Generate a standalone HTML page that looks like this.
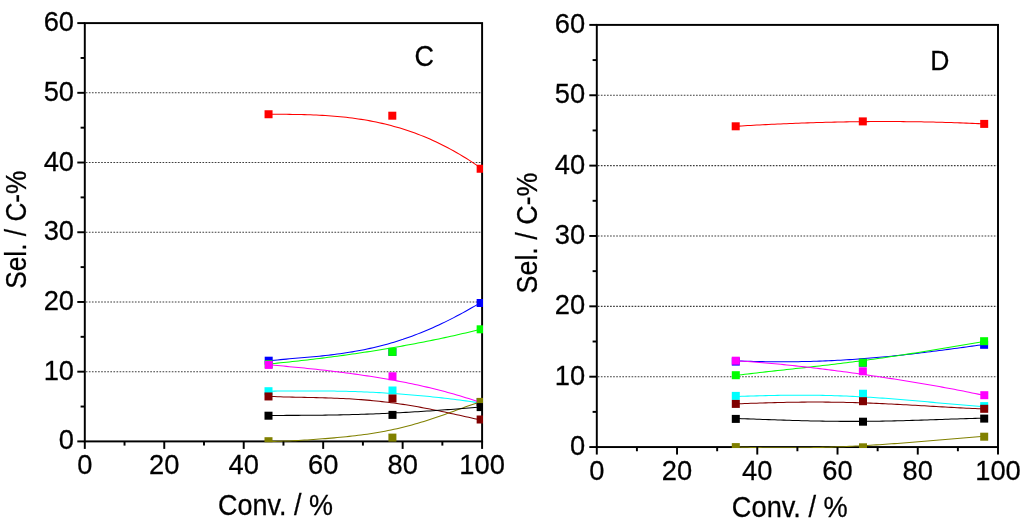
<!DOCTYPE html>
<html><head><meta charset="utf-8"><title>Sel. vs Conv.</title>
<style>
html,body{margin:0;padding:0;background:#fff;}
body{width:1024px;height:523px;overflow:hidden;}
svg{display:block;font-family:'Liberation Sans', sans-serif;fill:#000;}
text{stroke:#000;stroke-width:0.25px;}
</style></head><body>
<svg width="1024" height="523" viewBox="0 0 1024 523">
<rect width="1024" height="523" fill="#fff"/>
<line x1="85.80" y1="371.68" x2="481.10" y2="371.68" stroke="#3c3c3c" stroke-width="1.1" stroke-dasharray="1.65 1.42"/>
<line x1="85.80" y1="301.97" x2="481.10" y2="301.97" stroke="#3c3c3c" stroke-width="1.1" stroke-dasharray="1.65 1.42"/>
<line x1="85.80" y1="232.25" x2="481.10" y2="232.25" stroke="#3c3c3c" stroke-width="1.1" stroke-dasharray="1.65 1.42"/>
<line x1="85.80" y1="162.53" x2="481.10" y2="162.53" stroke="#3c3c3c" stroke-width="1.1" stroke-dasharray="1.65 1.42"/>
<line x1="85.80" y1="92.82" x2="481.10" y2="92.82" stroke="#3c3c3c" stroke-width="1.1" stroke-dasharray="1.65 1.42"/>
<clipPath id="clipL"><rect x="83.90" y="22.20" width="399.10" height="420.10"/></clipPath>
<rect x="84.80" y="23.10" width="397.30" height="418.30" fill="none" stroke="#000" stroke-width="1.95"/>
<g clip-path="url(#clipL)">
<path d="M268.5 360.81 L271.5 360.50 L274.5 360.20 L277.5 359.91 L280.5 359.64 L283.4 359.37 L286.4 359.11 L289.4 358.85 L292.4 358.60 L295.4 358.34 L298.4 358.09 L301.4 357.84 L304.4 357.58 L307.3 357.31 L310.3 357.04 L313.3 356.77 L316.3 356.48 L319.3 356.18 L322.3 355.87 L325.3 355.55 L328.3 355.21 L331.2 354.86 L334.2 354.49 L337.2 354.10 L340.2 353.70 L343.2 353.27 L346.2 352.82 L349.2 352.35 L352.2 351.86 L355.2 351.35 L358.1 350.80 L361.1 350.24 L364.1 349.65 L367.1 349.03 L370.1 348.38 L373.1 347.70 L376.1 347.00 L379.1 346.27 L382.0 345.50 L385.0 344.71 L388.0 343.89 L391.0 343.03 L394.0 342.14 L397.0 341.22 L400.0 340.27 L403.0 339.29 L405.9 338.27 L408.9 337.23 L411.9 336.14 L414.9 335.03 L417.9 333.88 L420.9 332.70 L423.9 331.49 L426.9 330.25 L429.9 328.97 L432.8 327.66 L435.8 326.31 L438.8 324.94 L441.8 323.53 L444.8 322.10 L447.8 320.63 L450.8 319.13 L453.8 317.60 L456.7 316.04 L459.7 314.46 L462.7 312.84 L465.7 311.20 L468.7 309.52 L471.7 307.83 L474.7 306.10 L477.7 304.36 L480.6 302.58" fill="none" stroke="#0000ff" stroke-width="1.05" stroke-linejoin="round"/>
<rect x="264.70" y="356.70" width="8" height="8" fill="#0000ff"/>
<rect x="388.40" y="347.90" width="8" height="8" fill="#0000ff"/>
<rect x="476.65" y="299.00" width="8" height="8" fill="#0000ff"/>
<path d="M268.5 364.00 L271.5 363.71 L274.5 363.42 L277.5 363.13 L280.5 362.83 L283.4 362.52 L286.4 362.21 L289.4 361.90 L292.4 361.58 L295.4 361.25 L298.4 360.92 L301.4 360.59 L304.4 360.25 L307.3 359.91 L310.3 359.56 L313.3 359.20 L316.3 358.84 L319.3 358.48 L322.3 358.11 L325.3 357.73 L328.3 357.35 L331.2 356.96 L334.2 356.57 L337.2 356.17 L340.2 355.77 L343.2 355.36 L346.2 354.95 L349.2 354.52 L352.2 354.10 L355.2 353.67 L358.1 353.23 L361.1 352.78 L364.1 352.33 L367.1 351.87 L370.1 351.41 L373.1 350.94 L376.1 350.47 L379.1 349.98 L382.0 349.49 L385.0 349.00 L388.0 348.50 L391.0 347.99 L394.0 347.47 L397.0 346.95 L400.0 346.42 L403.0 345.89 L405.9 345.34 L408.9 344.79 L411.9 344.24 L414.9 343.67 L417.9 343.10 L420.9 342.52 L423.9 341.93 L426.9 341.34 L429.9 340.74 L432.8 340.13 L435.8 339.51 L438.8 338.89 L441.8 338.26 L444.8 337.62 L447.8 336.97 L450.8 336.31 L453.8 335.65 L456.7 334.97 L459.7 334.29 L462.7 333.60 L465.7 332.91 L468.7 332.20 L471.7 331.48 L474.7 330.76 L477.7 330.03 L480.6 329.29" fill="none" stroke="#00ff00" stroke-width="1.05" stroke-linejoin="round"/>
<rect x="264.70" y="360.20" width="8" height="8" fill="#00ff00"/>
<rect x="388.40" y="347.90" width="8" height="8" fill="#00ff00"/>
<rect x="476.65" y="325.30" width="8" height="8" fill="#00ff00"/>
<path d="M268.5 391.20 L271.5 391.17 L274.5 391.13 L277.5 391.09 L280.5 391.06 L283.4 391.03 L286.4 391.00 L289.4 390.98 L292.4 390.95 L295.4 390.93 L298.4 390.92 L301.4 390.91 L304.4 390.90 L307.3 390.90 L310.3 390.90 L313.3 390.90 L316.3 390.91 L319.3 390.93 L322.3 390.95 L325.3 390.98 L328.3 391.01 L331.2 391.05 L334.2 391.10 L337.2 391.15 L340.2 391.21 L343.2 391.27 L346.2 391.34 L349.2 391.42 L352.2 391.51 L355.2 391.60 L358.1 391.70 L361.1 391.81 L364.1 391.93 L367.1 392.05 L370.1 392.18 L373.1 392.32 L376.1 392.47 L379.1 392.63 L382.0 392.79 L385.0 392.97 L388.0 393.15 L391.0 393.34 L394.0 393.53 L397.0 393.74 L400.0 393.96 L403.0 394.18 L405.9 394.41 L408.9 394.65 L411.9 394.91 L414.9 395.16 L417.9 395.43 L420.9 395.71 L423.9 395.99 L426.9 396.29 L429.9 396.59 L432.8 396.90 L435.8 397.22 L438.8 397.55 L441.8 397.89 L444.8 398.23 L447.8 398.58 L450.8 398.95 L453.8 399.32 L456.7 399.70 L459.7 400.08 L462.7 400.48 L465.7 400.88 L468.7 401.29 L471.7 401.71 L474.7 402.14 L477.7 402.57 L480.6 403.01" fill="none" stroke="#00ffff" stroke-width="1.05" stroke-linejoin="round"/>
<rect x="264.50" y="387.20" width="8" height="8" fill="#00ffff"/>
<rect x="388.50" y="386.50" width="8" height="8" fill="#00ffff"/>
<rect x="476.65" y="398.00" width="8" height="8" fill="#00ffff"/>
<path d="M268.5 364.81 L271.5 365.06 L274.5 365.31 L277.5 365.57 L280.5 365.83 L283.4 366.10 L286.4 366.37 L289.4 366.65 L292.4 366.93 L295.4 367.21 L298.4 367.50 L301.4 367.80 L304.4 368.10 L307.3 368.40 L310.3 368.71 L313.3 369.03 L316.3 369.35 L319.3 369.68 L322.3 370.01 L325.3 370.35 L328.3 370.70 L331.2 371.05 L334.2 371.41 L337.2 371.78 L340.2 372.15 L343.2 372.53 L346.2 372.92 L349.2 373.31 L352.2 373.72 L355.2 374.13 L358.1 374.55 L361.1 374.98 L364.1 375.41 L367.1 375.86 L370.1 376.31 L373.1 376.78 L376.1 377.25 L379.1 377.74 L382.0 378.23 L385.0 378.74 L388.0 379.26 L391.0 379.79 L394.0 380.33 L397.0 380.88 L400.0 381.44 L403.0 382.02 L405.9 382.61 L408.9 383.21 L411.9 383.83 L414.9 384.46 L417.9 385.10 L420.9 385.76 L423.9 386.43 L426.9 387.12 L429.9 387.83 L432.8 388.55 L435.8 389.28 L438.8 390.04 L441.8 390.81 L444.8 391.60 L447.8 392.41 L450.8 393.23 L453.8 394.08 L456.7 394.94 L459.7 395.82 L462.7 396.73 L465.7 397.65 L468.7 398.60 L471.7 399.56 L474.7 400.55 L477.7 401.56 L480.6 402.60" fill="none" stroke="#ff00ff" stroke-width="1.05" stroke-linejoin="round"/>
<rect x="264.70" y="360.90" width="8" height="8" fill="#ff00ff"/>
<rect x="388.50" y="372.30" width="8" height="8" fill="#ff00ff"/>
<rect x="476.65" y="398.00" width="8" height="8" fill="#ff00ff"/>
<path d="M268.5 441.39 L271.5 441.38 L274.5 441.36 L277.5 441.30 L280.5 441.23 L283.4 441.13 L286.4 441.02 L289.4 440.90 L292.4 440.76 L295.4 440.61 L298.4 440.44 L301.4 440.27 L304.4 440.09 L307.3 439.90 L310.3 439.71 L313.3 439.50 L316.3 439.29 L319.3 439.07 L322.3 438.85 L325.3 438.61 L328.3 438.37 L331.2 438.12 L334.2 437.86 L337.2 437.59 L340.2 437.31 L343.2 437.02 L346.2 436.71 L349.2 436.39 L352.2 436.06 L355.2 435.71 L358.1 435.35 L361.1 434.97 L364.1 434.57 L367.1 434.15 L370.1 433.71 L373.1 433.25 L376.1 432.76 L379.1 432.26 L382.0 431.72 L385.0 431.17 L388.0 430.58 L391.0 429.97 L394.0 429.34 L397.0 428.67 L400.0 427.98 L403.0 427.26 L405.9 426.51 L408.9 425.73 L411.9 424.92 L414.9 424.09 L417.9 423.23 L420.9 422.34 L423.9 421.42 L426.9 420.48 L429.9 419.52 L432.8 418.53 L435.8 417.52 L438.8 416.50 L441.8 415.45 L444.8 414.39 L447.8 413.32 L450.8 412.24 L453.8 411.16 L456.7 410.07 L459.7 408.99 L462.7 407.91 L465.7 406.84 L468.7 405.78 L471.7 404.74 L474.7 403.73 L477.7 402.75 L480.6 401.81" fill="none" stroke="#808000" stroke-width="1.05" stroke-linejoin="round"/>
<rect x="264.50" y="437.20" width="8" height="8" fill="#808000"/>
<rect x="388.40" y="433.60" width="8" height="8" fill="#808000"/>
<rect x="476.65" y="397.90" width="8" height="8" fill="#808000"/>
<path d="M268.5 396.29 L271.5 396.44 L274.5 396.58 L277.5 396.70 L280.5 396.80 L283.4 396.90 L286.4 396.99 L289.4 397.07 L292.4 397.14 L295.4 397.21 L298.4 397.27 L301.4 397.33 L304.4 397.39 L307.3 397.45 L310.3 397.51 L313.3 397.57 L316.3 397.64 L319.3 397.71 L322.3 397.78 L325.3 397.86 L328.3 397.95 L331.2 398.05 L334.2 398.16 L337.2 398.27 L340.2 398.40 L343.2 398.54 L346.2 398.69 L349.2 398.85 L352.2 399.03 L355.2 399.22 L358.1 399.42 L361.1 399.64 L364.1 399.88 L367.1 400.13 L370.1 400.39 L373.1 400.67 L376.1 400.97 L379.1 401.28 L382.0 401.61 L385.0 401.96 L388.0 402.32 L391.0 402.70 L394.0 403.10 L397.0 403.51 L400.0 403.94 L403.0 404.38 L405.9 404.84 L408.9 405.32 L411.9 405.81 L414.9 406.32 L417.9 406.84 L420.9 407.38 L423.9 407.93 L426.9 408.49 L429.9 409.06 L432.8 409.65 L435.8 410.25 L438.8 410.86 L441.8 411.48 L444.8 412.11 L447.8 412.74 L450.8 413.39 L453.8 414.04 L456.7 414.69 L459.7 415.35 L462.7 416.02 L465.7 416.68 L468.7 417.35 L471.7 418.02 L474.7 418.68 L477.7 419.34 L480.6 420.00" fill="none" stroke="#800000" stroke-width="1.05" stroke-linejoin="round"/>
<rect x="264.50" y="392.45" width="8" height="8" fill="#800000"/>
<rect x="388.50" y="394.50" width="8" height="8" fill="#800000"/>
<rect x="476.65" y="415.50" width="8" height="8" fill="#800000"/>
<path d="M268.6 114.25 L271.5 114.26 L274.5 114.27 L277.5 114.29 L280.5 114.30 L283.5 114.32 L286.5 114.34 L289.5 114.37 L292.4 114.41 L295.4 114.45 L298.4 114.51 L301.4 114.57 L304.4 114.64 L307.4 114.73 L310.4 114.83 L313.4 114.94 L316.3 115.07 L319.3 115.21 L322.3 115.37 L325.3 115.55 L328.3 115.74 L331.3 115.96 L334.3 116.19 L337.3 116.45 L340.2 116.73 L343.2 117.03 L346.2 117.35 L349.2 117.70 L352.2 118.08 L355.2 118.48 L358.2 118.90 L361.2 119.36 L364.1 119.84 L367.1 120.35 L370.1 120.89 L373.1 121.47 L376.1 122.07 L379.1 122.71 L382.1 123.38 L385.1 124.08 L388.0 124.82 L391.0 125.59 L394.0 126.40 L397.0 127.24 L400.0 128.12 L403.0 129.04 L406.0 130.00 L409.0 130.99 L411.9 132.03 L414.9 133.10 L417.9 134.22 L420.9 135.38 L423.9 136.57 L426.9 137.82 L429.9 139.10 L432.9 140.43 L435.8 141.80 L438.8 143.22 L441.8 144.68 L444.8 146.18 L447.8 147.74 L450.8 149.34 L453.8 150.98 L456.8 152.68 L459.7 154.42 L462.7 156.21 L465.7 158.05 L468.7 159.93 L471.7 161.87 L474.7 163.86 L477.7 165.89 L480.6 167.98" fill="none" stroke="#ff0000" stroke-width="1.05" stroke-linejoin="round"/>
<rect x="264.55" y="110.25" width="8" height="8" fill="#ff0000"/>
<rect x="388.30" y="111.70" width="8" height="8" fill="#ff0000"/>
<rect x="476.65" y="164.75" width="8" height="8" fill="#ff0000"/>
<path d="M268.5 415.40 L271.5 415.40 L274.5 415.40 L277.5 415.40 L280.5 415.40 L283.4 415.40 L286.4 415.39 L289.4 415.39 L292.4 415.38 L295.4 415.37 L298.4 415.36 L301.4 415.34 L304.4 415.33 L307.3 415.31 L310.3 415.28 L313.3 415.26 L316.3 415.23 L319.3 415.20 L322.3 415.16 L325.3 415.12 L328.3 415.08 L331.2 415.03 L334.2 414.98 L337.2 414.92 L340.2 414.86 L343.2 414.80 L346.2 414.73 L349.2 414.66 L352.2 414.58 L355.2 414.50 L358.1 414.41 L361.1 414.32 L364.1 414.22 L367.1 414.12 L370.1 414.02 L373.1 413.91 L376.1 413.79 L379.1 413.67 L382.0 413.55 L385.0 413.42 L388.0 413.28 L391.0 413.14 L394.0 413.00 L397.0 412.85 L400.0 412.69 L403.0 412.54 L405.9 412.37 L408.9 412.20 L411.9 412.03 L414.9 411.85 L417.9 411.67 L420.9 411.49 L423.9 411.30 L426.9 411.10 L429.9 410.90 L432.8 410.70 L435.8 410.49 L438.8 410.28 L441.8 410.07 L444.8 409.85 L447.8 409.63 L450.8 409.40 L453.8 409.17 L456.7 408.94 L459.7 408.71 L462.7 408.47 L465.7 408.23 L468.7 407.99 L471.7 407.74 L474.7 407.50 L477.7 407.25 L480.6 407.00" fill="none" stroke="#000000" stroke-width="1.05" stroke-linejoin="round"/>
<rect x="264.50" y="411.70" width="8" height="8" fill="#000000"/>
<rect x="388.50" y="410.90" width="8" height="8" fill="#000000"/>
<rect x="476.65" y="403.10" width="8" height="8" fill="#000000"/>
</g>
<line x1="77.30" y1="441.40" x2="84.80" y2="441.40" stroke="#000" stroke-width="1.95"/>
<line x1="80.60" y1="406.54" x2="84.80" y2="406.54" stroke="#000" stroke-width="1.95"/>
<line x1="77.30" y1="371.68" x2="84.80" y2="371.68" stroke="#000" stroke-width="1.95"/>
<line x1="80.60" y1="336.82" x2="84.80" y2="336.82" stroke="#000" stroke-width="1.95"/>
<line x1="77.30" y1="301.97" x2="84.80" y2="301.97" stroke="#000" stroke-width="1.95"/>
<line x1="80.60" y1="267.11" x2="84.80" y2="267.11" stroke="#000" stroke-width="1.95"/>
<line x1="77.30" y1="232.25" x2="84.80" y2="232.25" stroke="#000" stroke-width="1.95"/>
<line x1="80.60" y1="197.39" x2="84.80" y2="197.39" stroke="#000" stroke-width="1.95"/>
<line x1="77.30" y1="162.53" x2="84.80" y2="162.53" stroke="#000" stroke-width="1.95"/>
<line x1="80.60" y1="127.68" x2="84.80" y2="127.68" stroke="#000" stroke-width="1.95"/>
<line x1="77.30" y1="92.82" x2="84.80" y2="92.82" stroke="#000" stroke-width="1.95"/>
<line x1="80.60" y1="57.96" x2="84.80" y2="57.96" stroke="#000" stroke-width="1.95"/>
<line x1="77.30" y1="23.10" x2="84.80" y2="23.10" stroke="#000" stroke-width="1.95"/>
<line x1="84.80" y1="441.40" x2="84.80" y2="448.90" stroke="#000" stroke-width="1.95"/>
<line x1="124.53" y1="441.40" x2="124.53" y2="445.60" stroke="#000" stroke-width="1.95"/>
<line x1="164.26" y1="441.40" x2="164.26" y2="448.90" stroke="#000" stroke-width="1.95"/>
<line x1="203.99" y1="441.40" x2="203.99" y2="445.60" stroke="#000" stroke-width="1.95"/>
<line x1="243.72" y1="441.40" x2="243.72" y2="448.90" stroke="#000" stroke-width="1.95"/>
<line x1="283.45" y1="441.40" x2="283.45" y2="445.60" stroke="#000" stroke-width="1.95"/>
<line x1="323.18" y1="441.40" x2="323.18" y2="448.90" stroke="#000" stroke-width="1.95"/>
<line x1="362.91" y1="441.40" x2="362.91" y2="445.60" stroke="#000" stroke-width="1.95"/>
<line x1="402.64" y1="441.40" x2="402.64" y2="448.90" stroke="#000" stroke-width="1.95"/>
<line x1="442.37" y1="441.40" x2="442.37" y2="445.60" stroke="#000" stroke-width="1.95"/>
<line x1="482.10" y1="441.40" x2="482.10" y2="448.90" stroke="#000" stroke-width="1.95"/>
<text transform="translate(74.00 449.40) scale(1 1.04)" font-size="27.3" text-anchor="end">0</text>
<text transform="translate(74.00 379.68) scale(1 1.04)" font-size="27.3" text-anchor="end">10</text>
<text transform="translate(74.00 309.97) scale(1 1.04)" font-size="27.3" text-anchor="end">20</text>
<text transform="translate(74.00 240.25) scale(1 1.04)" font-size="27.3" text-anchor="end">30</text>
<text transform="translate(74.00 170.53) scale(1 1.04)" font-size="27.3" text-anchor="end">40</text>
<text transform="translate(74.00 100.82) scale(1 1.04)" font-size="27.3" text-anchor="end">50</text>
<text transform="translate(74.00 31.10) scale(1 1.04)" font-size="27.3" text-anchor="end">60</text>
<text transform="translate(84.80 473.80) scale(1 1.04)" font-size="27.3" text-anchor="middle">0</text>
<text transform="translate(164.26 473.80) scale(1 1.04)" font-size="27.3" text-anchor="middle">20</text>
<text transform="translate(243.72 473.80) scale(1 1.04)" font-size="27.3" text-anchor="middle">40</text>
<text transform="translate(323.18 473.80) scale(1 1.04)" font-size="27.3" text-anchor="middle">60</text>
<text transform="translate(402.64 473.80) scale(1 1.04)" font-size="27.3" text-anchor="middle">80</text>
<text transform="translate(482.10 473.80) scale(1 1.04)" font-size="27.3" text-anchor="middle">100</text>
<text transform="translate(275.45 514.55) scale(1 1.04)" font-size="27.5" text-anchor="middle" textLength="114.8" lengthAdjust="spacingAndGlyphs">Conv. / %</text>
<text transform="translate(25.90 229.65) rotate(-90) scale(1 1.04)" font-size="27.5" text-anchor="middle" textLength="118.3" lengthAdjust="spacingAndGlyphs">Sel. / C-%</text>
<text transform="translate(424.30 65.60) scale(1 1.085)" font-size="27" text-anchor="middle">C</text>
<line x1="597.80" y1="376.69" x2="997.00" y2="376.69" stroke="#3c3c3c" stroke-width="1.1" stroke-dasharray="1.65 1.42"/>
<line x1="597.80" y1="306.33" x2="997.00" y2="306.33" stroke="#3c3c3c" stroke-width="1.1" stroke-dasharray="1.65 1.42"/>
<line x1="597.80" y1="235.97" x2="997.00" y2="235.97" stroke="#3c3c3c" stroke-width="1.1" stroke-dasharray="1.65 1.42"/>
<line x1="597.80" y1="165.62" x2="997.00" y2="165.62" stroke="#3c3c3c" stroke-width="1.1" stroke-dasharray="1.65 1.42"/>
<line x1="597.80" y1="95.26" x2="997.00" y2="95.26" stroke="#3c3c3c" stroke-width="1.1" stroke-dasharray="1.65 1.42"/>
<clipPath id="clipR"><rect x="595.90" y="24.00" width="403.00" height="423.95"/></clipPath>
<rect x="596.80" y="24.90" width="401.20" height="422.15" fill="none" stroke="#000" stroke-width="1.95"/>
<g clip-path="url(#clipR)">
<path d="M735.8 360.90 L738.8 361.00 L741.8 361.10 L744.8 361.19 L747.8 361.28 L750.8 361.36 L753.7 361.43 L756.7 361.50 L759.7 361.56 L762.7 361.61 L765.7 361.66 L768.7 361.70 L771.7 361.73 L774.7 361.75 L777.7 361.76 L780.7 361.77 L783.7 361.77 L786.7 361.76 L789.6 361.75 L792.6 361.72 L795.6 361.69 L798.6 361.65 L801.6 361.60 L804.6 361.54 L807.6 361.47 L810.6 361.40 L813.6 361.31 L816.6 361.22 L819.6 361.12 L822.6 361.01 L825.5 360.89 L828.5 360.76 L831.5 360.63 L834.5 360.48 L837.5 360.33 L840.5 360.17 L843.5 360.00 L846.5 359.82 L849.5 359.63 L852.5 359.44 L855.5 359.23 L858.5 359.02 L861.4 358.80 L864.4 358.57 L867.4 358.33 L870.4 358.09 L873.4 357.83 L876.4 357.57 L879.4 357.30 L882.4 357.03 L885.4 356.75 L888.4 356.45 L891.4 356.16 L894.4 355.85 L897.3 355.54 L900.3 355.22 L903.3 354.90 L906.3 354.57 L909.3 354.23 L912.3 353.89 L915.3 353.54 L918.3 353.18 L921.3 352.82 L924.3 352.46 L927.3 352.09 L930.3 351.72 L933.2 351.34 L936.2 350.96 L939.2 350.57 L942.2 350.18 L945.2 349.79 L948.2 349.39 L951.2 348.99 L954.2 348.59 L957.2 348.18 L960.2 347.78 L963.2 347.37 L966.2 346.96 L969.1 346.55 L972.1 346.14 L975.1 345.73 L978.1 345.32 L981.1 344.91 L984.1 344.50" fill="none" stroke="#0000ff" stroke-width="1.05" stroke-linejoin="round"/>
<rect x="731.80" y="357.60" width="8" height="8" fill="#0000ff"/>
<rect x="858.85" y="358.70" width="8" height="8" fill="#0000ff"/>
<rect x="980.10" y="340.80" width="8" height="8" fill="#0000ff"/>
<path d="M735.8 375.48 L738.8 375.09 L741.8 374.71 L744.8 374.34 L747.8 373.97 L750.8 373.61 L753.7 373.26 L756.7 372.91 L759.7 372.56 L762.7 372.22 L765.7 371.88 L768.7 371.54 L771.7 371.21 L774.7 370.88 L777.7 370.55 L780.7 370.22 L783.7 369.90 L786.7 369.57 L789.6 369.25 L792.6 368.92 L795.6 368.59 L798.6 368.27 L801.6 367.94 L804.6 367.61 L807.6 367.28 L810.6 366.95 L813.6 366.61 L816.6 366.28 L819.6 365.94 L822.6 365.59 L825.5 365.25 L828.5 364.90 L831.5 364.55 L834.5 364.19 L837.5 363.83 L840.5 363.47 L843.5 363.10 L846.5 362.73 L849.5 362.35 L852.5 361.97 L855.5 361.59 L858.5 361.20 L861.4 360.81 L864.4 360.41 L867.4 360.00 L870.4 359.59 L873.4 359.18 L876.4 358.76 L879.4 358.34 L882.4 357.91 L885.4 357.48 L888.4 357.04 L891.4 356.60 L894.4 356.16 L897.3 355.71 L900.3 355.25 L903.3 354.79 L906.3 354.33 L909.3 353.86 L912.3 353.39 L915.3 352.91 L918.3 352.43 L921.3 351.95 L924.3 351.46 L927.3 350.97 L930.3 350.48 L933.2 349.98 L936.2 349.48 L939.2 348.98 L942.2 348.48 L945.2 347.98 L948.2 347.47 L951.2 346.97 L954.2 346.46 L957.2 345.95 L960.2 345.44 L963.2 344.94 L966.2 344.43 L969.1 343.92 L972.1 343.42 L975.1 342.91 L978.1 342.41 L981.1 341.91 L984.1 341.41" fill="none" stroke="#00ff00" stroke-width="1.05" stroke-linejoin="round"/>
<rect x="731.80" y="371.20" width="8" height="8" fill="#00ff00"/>
<rect x="858.85" y="358.70" width="8" height="8" fill="#00ff00"/>
<rect x="980.10" y="337.20" width="8" height="8" fill="#00ff00"/>
<path d="M735.8 396.50 L738.8 396.41 L741.8 396.31 L744.8 396.21 L747.8 396.12 L750.8 396.03 L753.7 395.94 L756.7 395.86 L759.7 395.78 L762.7 395.70 L765.7 395.62 L768.7 395.55 L771.7 395.49 L774.7 395.43 L777.7 395.38 L780.7 395.33 L783.7 395.29 L786.7 395.25 L789.6 395.22 L792.6 395.20 L795.6 395.19 L798.6 395.18 L801.6 395.17 L804.6 395.18 L807.6 395.19 L810.6 395.22 L813.6 395.24 L816.6 395.28 L819.6 395.33 L822.6 395.38 L825.5 395.44 L828.5 395.51 L831.5 395.59 L834.5 395.67 L837.5 395.77 L840.5 395.87 L843.5 395.98 L846.5 396.10 L849.5 396.22 L852.5 396.36 L855.5 396.50 L858.5 396.65 L861.4 396.81 L864.4 396.97 L867.4 397.15 L870.4 397.33 L873.4 397.51 L876.4 397.71 L879.4 397.91 L882.4 398.12 L885.4 398.33 L888.4 398.55 L891.4 398.78 L894.4 399.01 L897.3 399.25 L900.3 399.49 L903.3 399.74 L906.3 399.99 L909.3 400.25 L912.3 400.51 L915.3 400.77 L918.3 401.03 L921.3 401.30 L924.3 401.57 L927.3 401.85 L930.3 402.12 L933.2 402.39 L936.2 402.67 L939.2 402.94 L942.2 403.22 L945.2 403.49 L948.2 403.76 L951.2 404.03 L954.2 404.30 L957.2 404.56 L960.2 404.82 L963.2 405.08 L966.2 405.33 L969.1 405.58 L972.1 405.81 L975.1 406.05 L978.1 406.27 L981.1 406.49 L984.1 406.69" fill="none" stroke="#00ffff" stroke-width="1.05" stroke-linejoin="round"/>
<rect x="731.80" y="391.90" width="8" height="8" fill="#00ffff"/>
<rect x="859.00" y="389.75" width="8" height="8" fill="#00ffff"/>
<rect x="980.20" y="402.10" width="8" height="8" fill="#00ffff"/>
<path d="M735.8 360.79 L738.8 360.96 L741.8 361.15 L744.8 361.34 L747.8 361.54 L750.8 361.75 L753.7 361.97 L756.7 362.20 L759.7 362.44 L762.7 362.68 L765.7 362.94 L768.7 363.20 L771.7 363.47 L774.7 363.74 L777.7 364.03 L780.7 364.32 L783.7 364.61 L786.7 364.92 L789.6 365.23 L792.6 365.54 L795.6 365.86 L798.6 366.19 L801.6 366.52 L804.6 366.86 L807.6 367.20 L810.6 367.55 L813.6 367.91 L816.6 368.27 L819.6 368.63 L822.6 369.00 L825.5 369.37 L828.5 369.75 L831.5 370.13 L834.5 370.52 L837.5 370.91 L840.5 371.30 L843.5 371.70 L846.5 372.10 L849.5 372.51 L852.5 372.92 L855.5 373.33 L858.5 373.75 L861.4 374.17 L864.4 374.60 L867.4 375.03 L870.4 375.46 L873.4 375.90 L876.4 376.34 L879.4 376.79 L882.4 377.24 L885.4 377.69 L888.4 378.15 L891.4 378.61 L894.4 379.07 L897.3 379.54 L900.3 380.01 L903.3 380.49 L906.3 380.97 L909.3 381.46 L912.3 381.95 L915.3 382.44 L918.3 382.94 L921.3 383.45 L924.3 383.96 L927.3 384.47 L930.3 384.99 L933.2 385.51 L936.2 386.04 L939.2 386.58 L942.2 387.12 L945.2 387.67 L948.2 388.22 L951.2 388.78 L954.2 389.35 L957.2 389.92 L960.2 390.50 L963.2 391.09 L966.2 391.68 L969.1 392.28 L972.1 392.89 L975.1 393.51 L978.1 394.13 L981.1 394.77 L984.1 395.41" fill="none" stroke="#ff00ff" stroke-width="1.05" stroke-linejoin="round"/>
<rect x="731.80" y="356.70" width="8" height="8" fill="#ff00ff"/>
<rect x="858.85" y="367.30" width="8" height="8" fill="#ff00ff"/>
<rect x="980.30" y="391.20" width="8" height="8" fill="#ff00ff"/>
<path d="M735.8 446.99 L738.8 447.09 L741.8 447.18 L744.8 447.27 L747.8 447.35 L750.8 447.43 L753.7 447.50 L756.7 447.57 L759.7 447.63 L762.7 447.68 L765.7 447.73 L768.7 447.77 L771.7 447.81 L774.7 447.84 L777.7 447.86 L780.7 447.87 L783.7 447.88 L786.7 447.89 L789.6 447.88 L792.6 447.87 L795.6 447.85 L798.6 447.83 L801.6 447.80 L804.6 447.76 L807.6 447.72 L810.6 447.66 L813.6 447.61 L816.6 447.54 L819.6 447.47 L822.6 447.39 L825.5 447.30 L828.5 447.21 L831.5 447.11 L834.5 447.01 L837.5 446.89 L840.5 446.77 L843.5 446.65 L846.5 446.52 L849.5 446.38 L852.5 446.23 L855.5 446.08 L858.5 445.93 L861.4 445.76 L864.4 445.59 L867.4 445.42 L870.4 445.24 L873.4 445.06 L876.4 444.87 L879.4 444.67 L882.4 444.47 L885.4 444.26 L888.4 444.06 L891.4 443.84 L894.4 443.62 L897.3 443.40 L900.3 443.17 L903.3 442.94 L906.3 442.71 L909.3 442.47 L912.3 442.23 L915.3 441.99 L918.3 441.75 L921.3 441.50 L924.3 441.25 L927.3 441.00 L930.3 440.75 L933.2 440.50 L936.2 440.24 L939.2 439.99 L942.2 439.73 L945.2 439.48 L948.2 439.22 L951.2 438.97 L954.2 438.71 L957.2 438.46 L960.2 438.21 L963.2 437.96 L966.2 437.72 L969.1 437.47 L972.1 437.23 L975.1 436.99 L978.1 436.76 L981.1 436.53 L984.1 436.31" fill="none" stroke="#808000" stroke-width="1.05" stroke-linejoin="round"/>
<rect x="731.80" y="443.10" width="8" height="8" fill="#808000"/>
<rect x="859.00" y="443.30" width="8" height="8" fill="#808000"/>
<rect x="980.20" y="432.70" width="8" height="8" fill="#808000"/>
<path d="M735.8 403.90 L738.8 403.79 L741.8 403.68 L744.8 403.57 L747.8 403.46 L750.8 403.35 L753.7 403.25 L756.7 403.15 L759.7 403.05 L762.7 402.96 L765.7 402.87 L768.7 402.78 L771.7 402.70 L774.7 402.62 L777.7 402.54 L780.7 402.48 L783.7 402.41 L786.7 402.35 L789.6 402.30 L792.6 402.25 L795.6 402.21 L798.6 402.17 L801.6 402.14 L804.6 402.11 L807.6 402.09 L810.6 402.08 L813.6 402.07 L816.6 402.07 L819.6 402.08 L822.6 402.09 L825.5 402.11 L828.5 402.13 L831.5 402.16 L834.5 402.20 L837.5 402.24 L840.5 402.29 L843.5 402.35 L846.5 402.41 L849.5 402.48 L852.5 402.56 L855.5 402.64 L858.5 402.73 L861.4 402.82 L864.4 402.92 L867.4 403.03 L870.4 403.14 L873.4 403.25 L876.4 403.38 L879.4 403.50 L882.4 403.63 L885.4 403.77 L888.4 403.91 L891.4 404.05 L894.4 404.20 L897.3 404.36 L900.3 404.51 L903.3 404.67 L906.3 404.83 L909.3 405.00 L912.3 405.16 L915.3 405.33 L918.3 405.50 L921.3 405.68 L924.3 405.85 L927.3 406.02 L930.3 406.20 L933.2 406.37 L936.2 406.55 L939.2 406.72 L942.2 406.89 L945.2 407.06 L948.2 407.23 L951.2 407.39 L954.2 407.56 L957.2 407.71 L960.2 407.87 L963.2 408.02 L966.2 408.16 L969.1 408.30 L972.1 408.44 L975.1 408.56 L978.1 408.68 L981.1 408.79 L984.1 408.90" fill="none" stroke="#800000" stroke-width="1.05" stroke-linejoin="round"/>
<rect x="731.80" y="399.90" width="8" height="8" fill="#800000"/>
<rect x="859.00" y="397.20" width="8" height="8" fill="#800000"/>
<rect x="980.20" y="404.80" width="8" height="8" fill="#800000"/>
<path d="M735.7 126.30 L738.7 126.12 L741.7 125.94 L744.7 125.77 L747.7 125.60 L750.7 125.43 L753.7 125.26 L756.7 125.10 L759.7 124.94 L762.6 124.79 L765.6 124.64 L768.6 124.49 L771.6 124.34 L774.6 124.20 L777.6 124.06 L780.6 123.93 L783.6 123.80 L786.6 123.67 L789.6 123.54 L792.6 123.42 L795.6 123.31 L798.6 123.19 L801.6 123.08 L804.6 122.98 L807.6 122.88 L810.5 122.78 L813.5 122.68 L816.5 122.59 L819.5 122.50 L822.5 122.42 L825.5 122.34 L828.5 122.26 L831.5 122.19 L834.5 122.12 L837.5 122.05 L840.5 121.99 L843.5 121.93 L846.5 121.88 L849.5 121.83 L852.5 121.78 L855.5 121.74 L858.5 121.70 L861.4 121.67 L864.4 121.64 L867.4 121.61 L870.4 121.59 L873.4 121.57 L876.4 121.56 L879.4 121.55 L882.4 121.54 L885.4 121.54 L888.4 121.54 L891.4 121.55 L894.4 121.56 L897.4 121.58 L900.4 121.60 L903.4 121.62 L906.4 121.65 L909.4 121.68 L912.3 121.71 L915.3 121.75 L918.3 121.80 L921.3 121.85 L924.3 121.90 L927.3 121.96 L930.3 122.02 L933.3 122.09 L936.3 122.16 L939.3 122.23 L942.3 122.31 L945.3 122.40 L948.3 122.48 L951.3 122.58 L954.3 122.68 L957.3 122.78 L960.2 122.88 L963.2 123.00 L966.2 123.11 L969.2 123.23 L972.2 123.36 L975.2 123.49 L978.2 123.62 L981.2 123.76 L984.2 123.90" fill="none" stroke="#ff0000" stroke-width="1.05" stroke-linejoin="round"/>
<rect x="731.70" y="122.30" width="8" height="8" fill="#ff0000"/>
<rect x="858.80" y="117.40" width="8" height="8" fill="#ff0000"/>
<rect x="980.20" y="119.90" width="8" height="8" fill="#ff0000"/>
<path d="M735.8 418.50 L738.8 418.59 L741.8 418.69 L744.8 418.79 L747.8 418.89 L750.8 418.99 L753.7 419.09 L756.7 419.20 L759.7 419.30 L762.7 419.41 L765.7 419.52 L768.7 419.62 L771.7 419.73 L774.7 419.83 L777.7 419.93 L780.7 420.03 L783.7 420.13 L786.7 420.23 L789.6 420.33 L792.6 420.42 L795.6 420.51 L798.6 420.59 L801.6 420.67 L804.6 420.75 L807.6 420.83 L810.6 420.90 L813.6 420.96 L816.6 421.03 L819.6 421.08 L822.6 421.14 L825.5 421.18 L828.5 421.23 L831.5 421.26 L834.5 421.30 L837.5 421.33 L840.5 421.35 L843.5 421.37 L846.5 421.38 L849.5 421.39 L852.5 421.39 L855.5 421.38 L858.5 421.37 L861.4 421.36 L864.4 421.34 L867.4 421.32 L870.4 421.29 L873.4 421.25 L876.4 421.21 L879.4 421.17 L882.4 421.12 L885.4 421.06 L888.4 421.00 L891.4 420.94 L894.4 420.87 L897.3 420.80 L900.3 420.73 L903.3 420.65 L906.3 420.57 L909.3 420.48 L912.3 420.39 L915.3 420.30 L918.3 420.21 L921.3 420.11 L924.3 420.01 L927.3 419.91 L930.3 419.81 L933.2 419.71 L936.2 419.61 L939.2 419.51 L942.2 419.40 L945.2 419.30 L948.2 419.20 L951.2 419.10 L954.2 419.00 L957.2 418.91 L960.2 418.81 L963.2 418.72 L966.2 418.63 L969.1 418.55 L972.1 418.47 L975.1 418.39 L978.1 418.32 L981.1 418.26 L984.1 418.20" fill="none" stroke="#000000" stroke-width="1.05" stroke-linejoin="round"/>
<rect x="731.80" y="414.90" width="8" height="8" fill="#000000"/>
<rect x="859.00" y="417.70" width="8" height="8" fill="#000000"/>
<rect x="980.20" y="414.60" width="8" height="8" fill="#000000"/>
</g>
<line x1="589.30" y1="447.05" x2="596.80" y2="447.05" stroke="#000" stroke-width="1.95"/>
<line x1="592.60" y1="411.87" x2="596.80" y2="411.87" stroke="#000" stroke-width="1.95"/>
<line x1="589.30" y1="376.69" x2="596.80" y2="376.69" stroke="#000" stroke-width="1.95"/>
<line x1="592.60" y1="341.51" x2="596.80" y2="341.51" stroke="#000" stroke-width="1.95"/>
<line x1="589.30" y1="306.33" x2="596.80" y2="306.33" stroke="#000" stroke-width="1.95"/>
<line x1="592.60" y1="271.15" x2="596.80" y2="271.15" stroke="#000" stroke-width="1.95"/>
<line x1="589.30" y1="235.97" x2="596.80" y2="235.97" stroke="#000" stroke-width="1.95"/>
<line x1="592.60" y1="200.80" x2="596.80" y2="200.80" stroke="#000" stroke-width="1.95"/>
<line x1="589.30" y1="165.62" x2="596.80" y2="165.62" stroke="#000" stroke-width="1.95"/>
<line x1="592.60" y1="130.44" x2="596.80" y2="130.44" stroke="#000" stroke-width="1.95"/>
<line x1="589.30" y1="95.26" x2="596.80" y2="95.26" stroke="#000" stroke-width="1.95"/>
<line x1="592.60" y1="60.08" x2="596.80" y2="60.08" stroke="#000" stroke-width="1.95"/>
<line x1="589.30" y1="24.90" x2="596.80" y2="24.90" stroke="#000" stroke-width="1.95"/>
<line x1="596.80" y1="447.05" x2="596.80" y2="454.55" stroke="#000" stroke-width="1.95"/>
<line x1="636.92" y1="447.05" x2="636.92" y2="451.25" stroke="#000" stroke-width="1.95"/>
<line x1="677.04" y1="447.05" x2="677.04" y2="454.55" stroke="#000" stroke-width="1.95"/>
<line x1="717.16" y1="447.05" x2="717.16" y2="451.25" stroke="#000" stroke-width="1.95"/>
<line x1="757.28" y1="447.05" x2="757.28" y2="454.55" stroke="#000" stroke-width="1.95"/>
<line x1="797.40" y1="447.05" x2="797.40" y2="451.25" stroke="#000" stroke-width="1.95"/>
<line x1="837.52" y1="447.05" x2="837.52" y2="454.55" stroke="#000" stroke-width="1.95"/>
<line x1="877.64" y1="447.05" x2="877.64" y2="451.25" stroke="#000" stroke-width="1.95"/>
<line x1="917.76" y1="447.05" x2="917.76" y2="454.55" stroke="#000" stroke-width="1.95"/>
<line x1="957.88" y1="447.05" x2="957.88" y2="451.25" stroke="#000" stroke-width="1.95"/>
<line x1="998.00" y1="447.05" x2="998.00" y2="454.55" stroke="#000" stroke-width="1.95"/>
<text transform="translate(585.10 455.15) scale(1 1.04)" font-size="27.3" text-anchor="end">0</text>
<text transform="translate(585.10 384.79) scale(1 1.04)" font-size="27.3" text-anchor="end">10</text>
<text transform="translate(585.10 314.43) scale(1 1.04)" font-size="27.3" text-anchor="end">20</text>
<text transform="translate(585.10 244.07) scale(1 1.04)" font-size="27.3" text-anchor="end">30</text>
<text transform="translate(585.10 173.72) scale(1 1.04)" font-size="27.3" text-anchor="end">40</text>
<text transform="translate(585.10 103.36) scale(1 1.04)" font-size="27.3" text-anchor="end">50</text>
<text transform="translate(585.10 33.00) scale(1 1.04)" font-size="27.3" text-anchor="end">60</text>
<text transform="translate(596.80 480.00) scale(1 1.04)" font-size="27.3" text-anchor="middle">0</text>
<text transform="translate(677.04 480.00) scale(1 1.04)" font-size="27.3" text-anchor="middle">20</text>
<text transform="translate(757.28 480.00) scale(1 1.04)" font-size="27.3" text-anchor="middle">40</text>
<text transform="translate(837.52 480.00) scale(1 1.04)" font-size="27.3" text-anchor="middle">60</text>
<text transform="translate(917.76 480.00) scale(1 1.04)" font-size="27.3" text-anchor="middle">80</text>
<text transform="translate(998.00 480.00) scale(1 1.04)" font-size="27.3" text-anchor="middle">100</text>
<text transform="translate(789.80 516.80) scale(1 1.04)" font-size="27.5" text-anchor="middle" textLength="115.9" lengthAdjust="spacingAndGlyphs">Conv. / %</text>
<text transform="translate(537.00 233.00) rotate(-90) scale(1 1.04)" font-size="27.5" text-anchor="middle" textLength="121.0" lengthAdjust="spacingAndGlyphs">Sel. / C-%</text>
<text transform="translate(939.70 70.00) scale(1 1.06)" font-size="26.5" text-anchor="middle">D</text>
</svg>
</body></html>
